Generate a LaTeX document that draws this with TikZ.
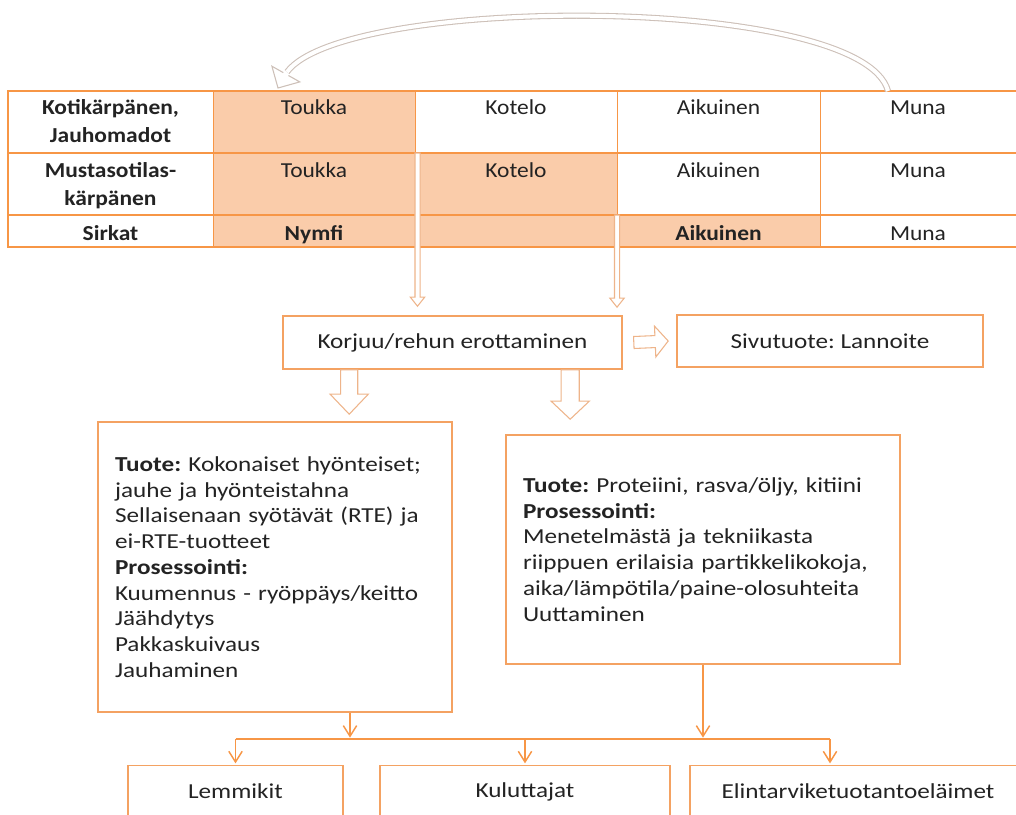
\documentclass[tikz,border=0pt]{standalone}
\usepackage{fontspec}
\setmainfont{Carlito}[FakeStretch=1.1]
\newfontfamily\boxfont{Carlito}[FakeStretch=1.18]
\usetikzlibrary{arrows.meta,calc,positioning}

\definecolor{tabline}{RGB}{247,150,70}
\definecolor{cellfill}{RGB}{250,204,170}
\definecolor{boxline}{RGB}{244,162,98}
\definecolor{hollowline}{RGB}{238,180,138}
\definecolor{cycleline}{RGB}{205,192,184}
\definecolor{txt}{RGB}{35,35,35}

\tikzset{
  celltext/.style={inner sep=0pt, anchor=base, text=txt, align=center,
    font=\fontsize{16}{21}\selectfont},
  rowhead/.style={celltext, font=\fontsize{16}{21}\selectfont\bfseries},
  flowbox/.style={draw=boxline, line width=1.2pt, fill=white, text=txt,
    font=\boxfont\fontsize{16}{19.3}\selectfont, inner sep=0pt},
  infobox/.style={flowbox, align=left, inner xsep=12.75pt},
  hollow/.style={draw=hollowline, fill=white, line width=0.8pt},
  feed/.style={draw=tabline, line width=1.1pt, shorten >=1pt,
    -{Straight Barb[length=8pt, width=10pt]}},
}

% hollow block arrow: from, to, stem half width, head half width, head length
\newcommand\hollowarrow[5]{%
  \path ($(#2)!#5!(#1)$) coordinate (neck);
  \draw[hollow] ($(#1)!#3!90:(#2)$) -- ($(neck)!#3!90:(#2)$) -- ($(neck)!#4!90:(#2)$)
    -- (#2) -- ($(neck)!#4!-90:(#2)$) -- ($(neck)!#3!-90:(#2)$) -- ($(#1)!#3!-90:(#2)$) -- cycle;
}

\begin{document}
\frenchspacing
\begin{tikzpicture}[x=0.75pt, y=-0.75pt]
  \useasboundingbox (0,0) rectangle (1016,814);

  % table of life stages
  \fill[cellfill] (213,91) rectangle (415,153);
  \fill[cellfill] (213,153) rectangle (617,215);
  \fill[cellfill] (213,215) rectangle (820,247);
  \foreach \x in {213,415,617,820}
    \draw[tabline, line width=0.6pt] (\x,91) -- (\x,247);
  \draw[tabline, line width=1.4pt] (8,153) -- (1030,153);
  \draw[tabline, line width=1.6pt] (8,215) -- (1030,215);
  \draw[tabline, line width=2pt] (1030,91) -- (8,91) -- (8,247) -- (1030,247);
  \coordinate (tabletop) at (0,91);

  \node[rowhead] (kotikarpanen) at (110.5,142) {Kotikärpänen,\\Jauhomadot};
  \node[rowhead] (mustasotilas) at (110.5,205) {Mustasotilas-\\kärpänen};
  \node[rowhead] (sirkat) at (110.5,240) {Sirkat};
  \node[celltext] (toukka1) at (314,114) {Toukka};
  \node[celltext] (kotelo1) at (516,114) {Kotelo};
  \node[celltext] (aikuinen1) at (718.5,114) {Aikuinen};
  \node[celltext] (muna1) at (918,114) {Muna};
  \node[celltext] (toukka2) at (314,177) {Toukka};
  \node[celltext] (kotelo2) at (516,177) {Kotelo};
  \node[celltext] (aikuinen2) at (718.5,177) {Aikuinen};
  \node[celltext] (muna2) at (918,177) {Muna};
  \node[celltext, font=\fontsize{16}{21}\selectfont\bfseries] (nymfi) at (314,240) {Nymfi};
  \node[celltext, font=\fontsize{16}{21}\selectfont\bfseries] (aikuinen3) at (718.5,240) {Aikuinen};
  \node[celltext] (muna3) at (918,240) {Muna};

  % life cycle arrow
  \coordinate (cyclestart) at ($(muna1 |- tabletop)+(-30,0)$);
  \coordinate (cyclebase) at ($(toukka1 |- tabletop)+(-27,-19)$);
  \coordinate (cycletip) at ($(toukka1 |- tabletop)+(-36,-3)$);
  \draw[cycleline, line width=0.8pt, double=white, double distance=3pt]
    (cyclestart) .. controls (862,-6) and (345,-6) .. (cyclebase);
  \path ($(cycletip)!12pt!(cyclebase)$) coordinate (neck);
  \fill[white] ($(neck)!12pt!90:(cycletip)$) -- (cycletip) -- ($(neck)!12pt!-90:(cycletip)$) -- cycle;
  \draw[cycleline, line width=0.8pt] ($(neck)!2.2pt!90:(cycletip)$) -- ($(neck)!12pt!90:(cycletip)$)
    -- (cycletip) -- ($(neck)!12pt!-90:(cycletip)$) -- ($(neck)!2.2pt!-90:(cycletip)$);

  % harvesting
  \node[flowbox, minimum width=254.25pt, minimum height=39.75pt] (korjuu) at (452.5,342.5)
    {Korjuu/rehun erottaminen};
  \node[flowbox, minimum width=229.5pt, minimum height=39pt] (sivutuote) at (830,341)
    {Sivutuote: Lannoite};

  \coordinate (harvestA) at (417.5,153);
  \coordinate (harvestB) at (617,215);
  \coordinate (harvestAend) at ($(harvestA |- korjuu.north)+(0,-9)$);
  \coordinate (harvestBend) at ($(harvestB |- korjuu.north)+(0,-8)$);
  \hollowarrow{harvestA}{harvestAend}{1.9pt}{5.4pt}{6.8pt}
  \hollowarrow{harvestB}{harvestBend}{1.9pt}{5.4pt}{6.8pt}

  \coordinate (sideA) at ($(korjuu.east)+(11,0)$);
  \coordinate (sideB) at ($(sivutuote.west)+(-8,0)$);
  \hollowarrow{sideA}{sideB}{4.5pt}{11.6pt}{9.8pt}

  % products
  \node[infobox, text width=240pt, minimum height=217.5pt] (tuote1) at (275,567)
    {\textbf{Tuote:} Kokonaiset hyönteiset;\\
     jauhe ja hyönteistahna\\
     Sellaisenaan syötävät (RTE) ja\\
     ei-RTE-tuotteet\\
     \textbf{Prosessointi:}\\
     Kuumennus - ryöppäys/keitto\\
     Jäähdytys\\
     Pakkaskuivaus\\
     Jauhaminen};
  \node[infobox, text width=270pt, minimum height=171.75pt] (tuote2) at (703,549.5)
    {\textbf{Tuote:} Proteiini, rasva/öljy, kitiini\\
     \textbf{Prosessointi:}\\
     Menetelmästä ja tekniikasta\\
     riippuen erilaisia partikkelikokoja,\\
     aika/lämpötila/paine-olosuhteita\\
     Uuttaminen};

  \coordinate (downA) at ($(korjuu.south west)+(67,0)$);
  \coordinate (downB) at ($(korjuu.south west)+(288,0)$);
  \coordinate (downAend) at ($(downA |- tuote1.north)+(0,-7)$);
  \coordinate (downBend) at ($(downB |- tuote2.north)+(0,-15)$);
  \hollowarrow{downA}{downAend}{6.4pt}{14.3pt}{15pt}
  \hollowarrow{downB}{downBend}{6.8pt}{14.3pt}{13.5pt}

  % users
  \node[flowbox, minimum width=161.25pt, minimum height=39pt] (lemmikit) at (235.5,791.5) {Lemmikit};
  \node[flowbox, minimum width=217.5pt, minimum height=39pt] (kuluttajat) at (525,791.5) {Kuluttajat};
  \node[flowbox, minimum width=252pt, minimum height=39pt] (elintarvike) at (858,791.5)
    {Elintarviketuotantoeläimet};

  \coordinate (split) at (0,739);
  \coordinate (feedA) at ($(tuote1.south)+(75,0)$);
  \coordinate (feedE) at ($(elintarvike.north)+(-28,0)$);
  \draw[feed] (feedA) -- (feedA |- split);
  \draw[feed] (tuote2.south) -- (tuote2.south |- split);
  \draw[tabline, line width=1.1pt] (lemmikit.north |- split) -- (feedE |- split);
  \draw[feed] (lemmikit.north |- split) -- (lemmikit.north);
  \draw[feed] (kuluttajat.north |- split) -- (kuluttajat.north);
  \draw[feed] (feedE |- split) -- (feedE);
\end{tikzpicture}
\end{document}
